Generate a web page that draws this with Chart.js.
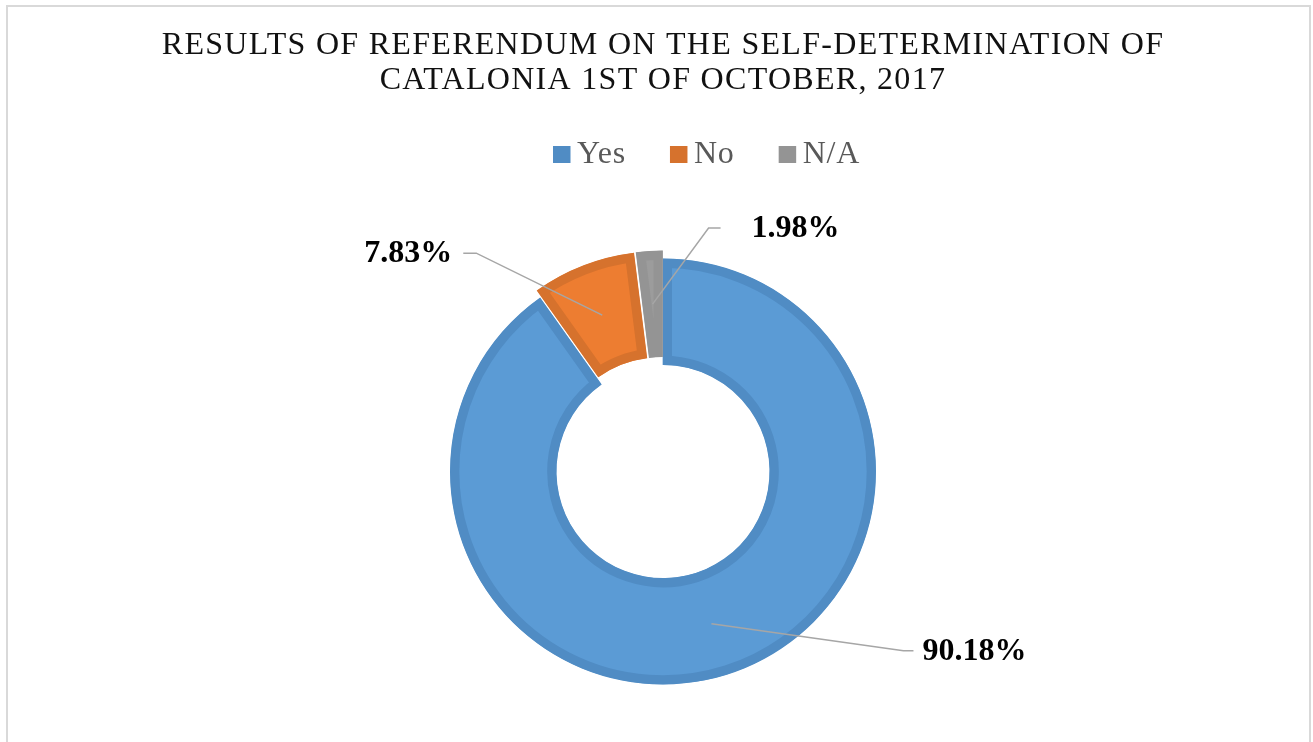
<!DOCTYPE html>
<html>
<head>
<meta charset="utf-8">
<title>Referendum results</title>
<script src="https://cdn.jsdelivr.net/npm/chart.js@4.4.1/dist/chart.umd.min.js"></script>
<style>
  html, body { margin: 0; padding: 0; background: #fff; }
  #wrap { width: 1313px; height: 742px; position: relative; }
</style>
</head>
<body>
<div id="wrap"><canvas id="myChart" width="1313" height="742"></canvas></div>
<script>
const categories = ["Yes", "No", "N/A"];
const results = [90.18, 7.83, 1.98];

const fillColors = ["#5B9BD5", "#ED7D31", "#9C9C9C"];
const edgeColors = ["#508CC4", "#D6722D", "#949494"];
const explode = [0, 8, 8];
const serif = "'Liberation Serif', 'Times New Roman', serif";

// where each callout bends and sits, relative to its slice centre
const calloutLayout = [
  { dx: 192, dy: 27, tail: 10, gap: 9 },
  { dx: -126, dy: -62, tail: -13, gap: 11 },
  { dx: 56, dy: -76, tail: 12, gap: 31 },
];

const frame = {
  id: "frame",
  beforeDraw(chart) {
    const ctx = chart.ctx;
    ctx.save();
    ctx.fillStyle = "#fff";
    ctx.fillRect(0, 0, chart.width, chart.height);
    ctx.strokeStyle = "#D9D9D9";
    ctx.lineWidth = 2;
    ctx.strokeRect(7, 6, 1303, 780);
    ctx.restore();
    // spaced-out caps for the title only
    ctx.letterSpacing = "1.3px";
  },
  beforeDatasetsDraw(chart) {
    chart.ctx.letterSpacing = "0px";
  },
};

// push selected slices out from the centre
const explodeSlices = {
  id: "explodeSlices",
  afterDatasetUpdate(chart, args) {
    args.meta.data.forEach((arc, i) => {
      const d = explode[i] || 0;
      if (!d) return;
      const mid = (arc.startAngle + arc.endAngle) / 2;
      arc.x += Math.cos(mid) * d;
      arc.y += Math.sin(mid) * d;
    });
  },
};

const callouts = {
  id: "callouts",
  afterDatasetsDraw(chart) {
    const ctx = chart.ctx;
    const meta = chart.getDatasetMeta(0);
    ctx.save();
    meta.data.forEach((arc, i) => {
      const lay = calloutLayout[i];
      const mid = (arc.startAngle + arc.endAngle) / 2;
      const r = (arc.innerRadius + arc.outerRadius) / 2;
      const px = arc.x + Math.cos(mid) * r;
      const py = arc.y + Math.sin(mid) * r;
      const ex = px + lay.dx;
      const ey = py + lay.dy;
      const tx = ex + lay.tail;

      ctx.strokeStyle = "#A6A6A6";
      ctx.lineWidth = 1.5;
      ctx.beginPath();
      ctx.moveTo(px, py);
      ctx.lineTo(ex, ey);
      ctx.lineTo(tx, ey);
      ctx.stroke();

      const left = lay.tail > 0;
      ctx.font = "bold 32px " + serif;
      ctx.fillStyle = "#000";
      ctx.textBaseline = "middle";
      ctx.textAlign = left ? "left" : "right";
      ctx.fillText(results[i].toFixed(2) + "%", left ? tx + lay.gap : tx - lay.gap, ey + 1);
    });
    ctx.restore();
  },
};

const legendRow = {
  id: "legendRow",
  afterDraw(chart) {
    const ctx = chart.ctx;
    const ds = chart.data.datasets[0];
    let x = 553;
    const y = 154.5;
    ctx.save();
    ctx.font = "32px " + serif;
    ctx.letterSpacing = "0.8px";
    ctx.textBaseline = "middle";
    ctx.textAlign = "left";
    chart.data.labels.forEach((label, i) => {
      ctx.fillStyle = ds.borderColor[i];
      ctx.fillRect(x, y - 8.5, 17.5, 17);
      x += 24;
      ctx.fillStyle = "#595959";
      ctx.fillText(label, x, y);
      x += ctx.measureText(label).width + 44;
    });
    ctx.restore();
  },
};

const ctx = document.getElementById("myChart").getContext("2d");
const chart = new Chart(ctx, {
  type: "doughnut",
  data: {
    labels: categories,
    datasets: [
      {
        data: results,
        backgroundColor: fillColors,
        borderColor: edgeColors,
        borderWidth: 9,
        borderAlign: "inner",
        borderJoinStyle: "miter",
        hoverOffset: 0,
      },
    ],
  },
  options: {
    responsive: false,
    animation: false,
    events: [],
    radius: 213,
    cutout: "50%",
    layout: {
      padding: { left: 13, right: 0, top: 0, bottom: 17 },
    },
    plugins: {
      legend: { display: false },
      tooltip: { enabled: false },
      title: {
        display: true,
        text: [
          "RESULTS OF REFERENDUM ON THE SELF-DETERMINATION OF",
          "CATALONIA 1ST OF OCTOBER, 2017",
        ],
        color: "#111",
        font: { family: serif, size: 32, weight: "normal", lineHeight: 1.094 },
        padding: { top: 28, bottom: 120 },
      },
    },
  },
  plugins: [frame, explodeSlices, callouts, legendRow],
});
</script>
</body>
</html>
